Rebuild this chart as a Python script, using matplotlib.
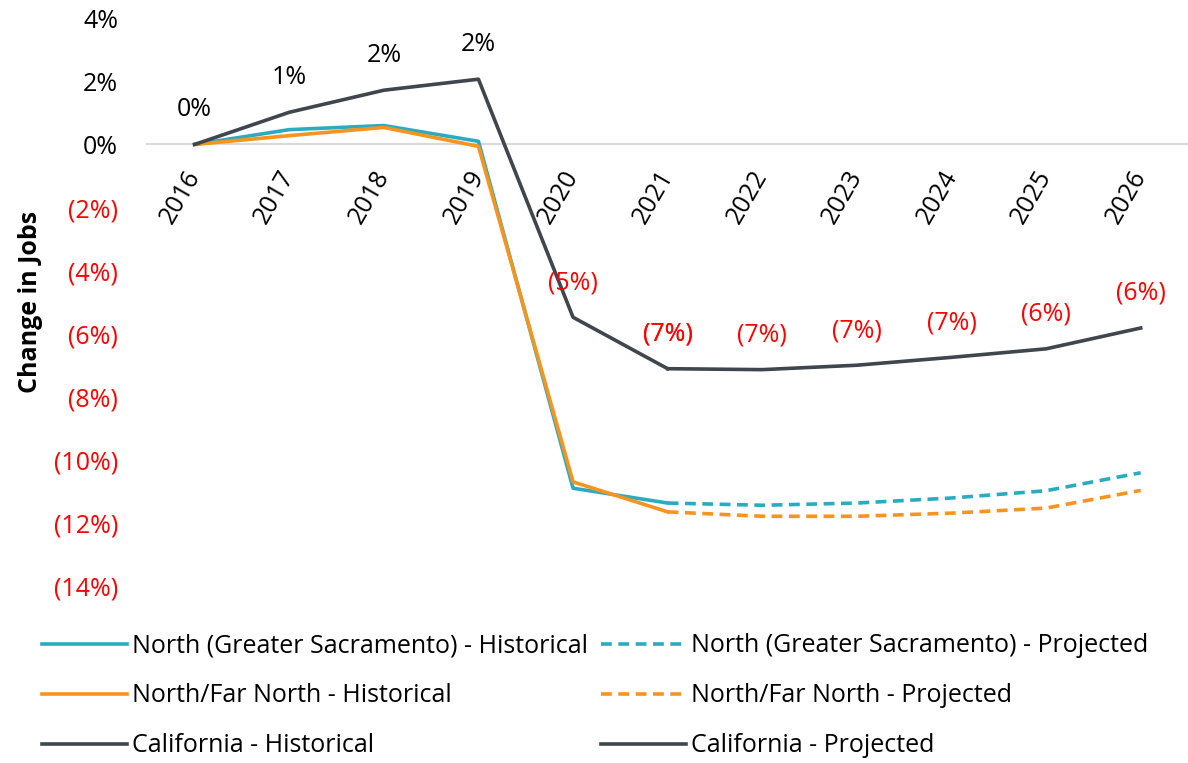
import matplotlib
matplotlib.use("Agg")
from matplotlib import pyplot as plt

plt.rcParams['font.family'] = ['Open Sans', 'DejaVu Sans']

years = [2016, 2017, 2018, 2019, 2020, 2021, 2022, 2023, 2024, 2025, 2026]
hist_years = years[:6]
proj_years = years[5:]

# change in jobs vs 2016, in percent
sac_hist = [0.0, 0.47, 0.60, 0.10, -10.90, -11.37]
sac_proj = [-11.37, -11.44, -11.37, -11.21, -10.98, -10.41]
far_hist = [0.0, 0.28, 0.54, -0.06, -10.70, -11.65]
far_proj = [-11.65, -11.79, -11.79, -11.69, -11.53, -10.97]
ca_hist = [0.0, 1.02, 1.72, 2.07, -5.48, -7.11]
ca_proj = [-7.11, -7.14, -7.00, -6.75, -6.48, -5.82]

yticks = [4, 2, 0, -2, -4, -6, -8, -10, -12, -14]

teal = '#2BABC2'
orange = '#F7941D'
dark = '#3F464D'
red = '#FF0000'
fs = 18


def pct(v):
    r = int(round(abs(v)))
    return f"({r}%)" if round(v) < 0 else f"{r}%"


fig = plt.figure(figsize=(11.88, 7.63), dpi=100)
ax = fig.add_axes([0.124, 0.232, 0.876, 0.744])

xh = [years.index(y) for y in hist_years]
xp = [years.index(y) for y in proj_years]
dash = (0, (3, 1.8))
lw = 2.6

h1, = ax.plot(xh, sac_hist, color=teal, lw=lw, label='North (Greater Sacramento) - Historical')
h2, = ax.plot(xh, far_hist, color=orange, lw=lw, label='North/Far North - Historical')
h3, = ax.plot(xh, ca_hist, color=dark, lw=lw, label='California - Historical')
p1, = ax.plot(xp, sac_proj, color=teal, lw=lw, ls=dash, label='North (Greater Sacramento) - Projected')
p2, = ax.plot(xp, far_proj, color=orange, lw=lw, ls=dash, label='North/Far North - Projected')
p3, = ax.plot(xp, ca_proj, color=dark, lw=lw, label='California - Projected')

# data labels for California (both segments share 2021)
for xs, vals in [(xh, ca_hist), (xp, ca_proj)]:
    for x, v in zip(xs, vals):
        ax.annotate(pct(v), (x, v), xytext=(0, 25), textcoords='offset points',
                    ha='center', va='center', fontsize=fs,
                    color=red if round(v) < 0 else 'black')

ax.set_xlim(-0.5, len(years) - 0.5)
ax.set_ylim(-14, 4)
ax.set_yticks(yticks, labels=[pct(t) for t in yticks])
ax.tick_params(axis='y', length=0, labelsize=fs, pad=21)

ax.set_xticks(range(len(years)), labels=[str(y) for y in years])
ax.tick_params(axis='x', length=0, labelsize=fs, pad=20, labelrotation=60)

for s in ['top', 'right', 'left']:
    ax.spines[s].set_visible(False)
ax.spines['bottom'].set_position(('data', 0))
ax.spines['bottom'].set_color('#D9D9D9')
ax.spines['bottom'].set_linewidth(1.5)
ax.spines['bottom'].set_zorder(0)

ax.set_ylabel('Change in Jobs', fontsize=18, fontweight='bold')
ax.yaxis.set_label_coords(-0.1, 0.5)

fig.legend(handles=[h1, h2, h3, p1, p2, p3], ncol=2, frameon=False,
           loc='center left', bbox_to_anchor=(0.027, 0.088), fontsize=fs,
           handlelength=3.4, handletextpad=0.2, columnspacing=0.5,
           labelspacing=1.0, borderaxespad=0)

for t, lab in zip(yticks, ax.get_yticklabels()):
    lab.set_color(red if t < 0 else 'black')
plt.setp(ax.get_xticklabels(), ha='right', va='center', rotation_mode='anchor')

fig.savefig('out.png', dpi=100)
